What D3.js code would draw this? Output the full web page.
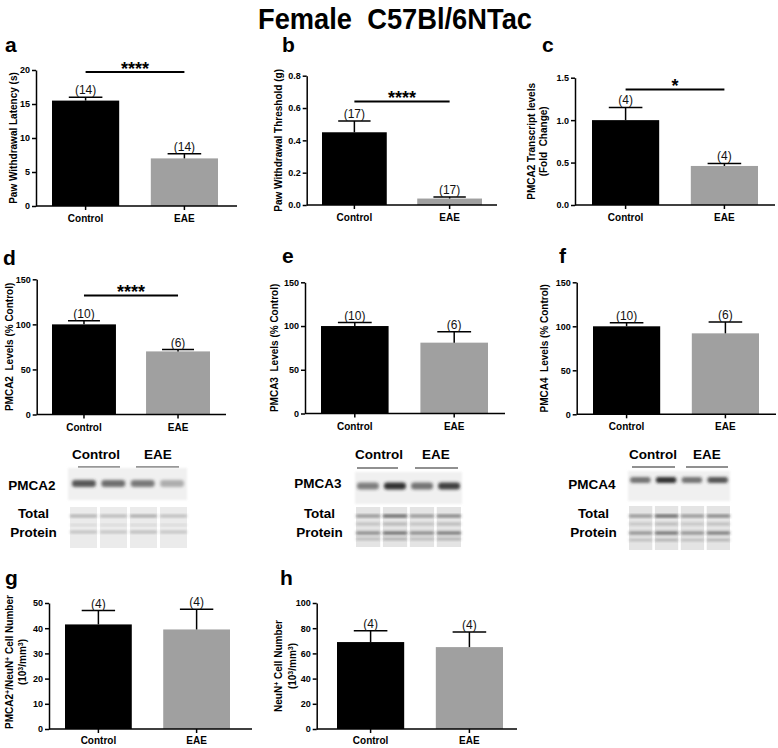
<!DOCTYPE html>
<html><head><meta charset="utf-8">
<script src="https://cdn.jsdelivr.net/npm/d3@7"></script>
<style>
body{margin:0;background:#fff}
svg{display:block}
text{font-family:"Liberation Sans",Arial,Helvetica,sans-serif}
</style>
</head><body>
<svg id="c" width="778" height="748"></svg>
<script>
// ---------------- DATA ----------------
const categories = ["Control", "EAE"];
const barColors = ["#000000", "#a0a0a0"];

// a: paw withdrawal latency (s)
const latencyMean = [15.5, 7.0];
const latencyUpper = [16.0, 7.7];
const latencyN = [14, 14];
const latencyTicks = [0, 5, 10, 15, 20];

// b: paw withdrawal threshold (g)
const thresholdMean = [0.45, 0.04];
const thresholdUpper = [0.52, 0.05];
const thresholdN = [17, 17];
const thresholdTicks = [0, 0.2, 0.4, 0.6, 0.8];

// c: PMCA2 transcript (fold change)
const transcriptMean = [1.0, 0.46];
const transcriptUpper = [1.15, 0.49];
const transcriptN = [4, 4];
const transcriptTicks = [0, 0.5, 1.0, 1.5];

// d/e/f: protein levels (% control)
const proteinTicks = [0, 50, 100, 150];
const pmca2Mean = [100, 70];
const pmca2Upper = [104, 72];
const pmca3Mean = [100, 81];
const pmca3Upper = [104, 93.5];
const pmca4Mean = [100, 92];
const pmca4Upper = [104, 105];
const proteinN = [10, 6];

// g: PMCA2+/NeuN+ cell number
const doubleMean = [41.5, 39.5];
const doubleUpper = [47, 47.5];
const doubleTicks = [0, 10, 20, 30, 40, 50];
// h: NeuN+ cell number
const neunMean = [69, 65];
const neunUpper = [78, 77];
const neunTicks = [0, 20, 40, 60, 80, 100];
const cellN = [4, 4];

// western blot band intensities (lanes: Control, Control, EAE, EAE)
const blotLanes = [0, 1, 2, 3];
const pmca2Band = [0.8, 0.68, 0.62, 0.35];
const pmca3Band = [0.55, 0.92, 0.6, 0.85];
const pmca4Band = [0.6, 0.92, 0.6, 0.75];
const tp2Upper = [0.45, 0.38, 0.5, 0.35], tp2Lower = [0.32, 0.3, 0.36, 0.3];
const tp3Upper = [0.6, 0.95, 0.6, 0.72], tp3Lower = [0.65, 0.85, 0.65, 0.78];
const tp4Upper = [0.6, 0.95, 0.6, 0.72], tp4Lower = [0.6, 0.82, 0.6, 0.75];

// ---------------- DRAW ----------------
const svg = d3.select("#c");
const defs = svg.append("defs");
defs.append("filter").attr("id", "blur").attr("x", "-20%").attr("y", "-80%").attr("width", "140%").attr("height", "260%")
  .append("feGaussianBlur").attr("stdDeviation", "1.4 1.6");
defs.append("filter").attr("id", "blur2").attr("x", "-10%").attr("y", "-10%").attr("width", "120%").attr("height", "120%")
  .append("feGaussianBlur").attr("stdDeviation", "1");

svg.append("text").attr("x", 395).attr("y", 29).attr("text-anchor", "middle")
  .style("font-family", '"Liberation Sans Narrow","Arial Narrow","Liberation Sans",Arial,sans-serif')
  .style("font-weight", "bold").style("font-size", "30px").style("white-space", "pre")
  .attr("textLength", 274).attr("lengthAdjust", "spacingAndGlyphs")
  .text("Female  C57Bl/6NTac");

const panels = [
  {letter: "a", lx: 5, ly: 52, ax: 36, xEnd: 237, yTop: 70, yBot: 206, bars: [52, 218], domain: [0, 20], ticks: latencyTicks, fmt: d3.format("d"),
   mean: latencyMean, upper: latencyUpper, n: latencyN, sig: 19.7, stars: "****",
   label: [[["Paw Withdrawal Latency (s)"]]], labX: [17]},
  {letter: "b", lx: 282, ly: 52, ax: 306.7, xEnd: 497, yTop: 75.7, yBot: 205, bars: [322, 482], domain: [0, 0.8], ticks: thresholdTicks, fmt: d3.format(".1f"),
   mean: thresholdMean, upper: thresholdUpper, n: thresholdN, sig: 0.64, stars: "****",
   label: [[["Paw Withdrawal Threshold (g)"]]], labX: [282]},
  {letter: "c", lx: 542, ly: 52, ax: 575, xEnd: 775, yTop: 77.7, yBot: 205, bars: [592, 758], domain: [0, 1.5], ticks: transcriptTicks, fmt: d3.format(".1f"),
   mean: transcriptMean, upper: transcriptUpper, n: transcriptN, sig: 1.36, stars: "*",
   label: [[["PMCA2 Transcript levels"]], [["(Fold  Change)"]]], labX: [535, 547]},
  {letter: "d", lx: 3, ly: 265, ax: 36.7, xEnd: 226, yTop: 279.3, yBot: 414.5, bars: [52, 210], domain: [0, 150], ticks: proteinTicks, fmt: d3.format("d"),
   mean: pmca2Mean, upper: pmca2Upper, n: proteinN, sig: 132, stars: "****",
   label: [[["PMCA2  Levels (% Control)"]]], labX: [12.5]},
  {letter: "e", lx: 282, ly: 263, ax: 305, xEnd: 505, yTop: 282.3, yBot: 413.5, bars: [321, 488], domain: [0, 150], ticks: proteinTicks, fmt: d3.format("d"),
   mean: pmca3Mean, upper: pmca3Upper, n: proteinN, sig: null,
   label: [[["PMCA3  Levels (% Control)"]]], labX: [278]},
  {letter: "f", lx: 559, ly: 263, ax: 576.7, xEnd: 776, yTop: 282.3, yBot: 414.3, bars: [593, 759], domain: [0, 150], ticks: proteinTicks, fmt: d3.format("d"),
   mean: pmca4Mean, upper: pmca4Upper, n: proteinN, sig: null,
   label: [[["PMCA4  Levels (% Control)"]]], labX: [548]},
  {letter: "g", lx: 5, ly: 585, ax: 49, xEnd: 252, yTop: 603, yBot: 729, bars: [65, 230], domain: [0, 50], ticks: doubleTicks, fmt: d3.format("d"),
   mean: doubleMean, upper: doubleUpper, n: cellN, sig: null, xPad: 4,
   label: [[["PMCA2"], ["+", 1], ["/NeuN"], ["+", 1], [" Cell Number"]], [["(10"], ["3", 1], ["/mm"], ["3", 1], [")"]]], labX: [13, 26], labMid: 662},
  {letter: "h", lx: 280, ly: 585, ax: 316.7, xEnd: 517, yTop: 603, yBot: 729, bars: [337, 503], domain: [0, 100], ticks: neunTicks, fmt: d3.format("d"),
   mean: neunMean, upper: neunUpper, n: cellN, sig: null, xPad: 4,
   label: [[["NeuN"], ["+", 1], [" Cell Number"]], [["(10"], ["3", 1], ["/mm"], ["3", 1], [")"]]], labX: [282, 296]}
];

function drawPanel(p) {
  const g = svg.append("g");
  const y = d3.scaleLinear().domain(p.domain).range([p.yBot, p.yTop]);
  const x = d3.scaleBand().domain(categories).range(p.bars).paddingInner(0.32);
  const bw = x.bandwidth();

  g.selectAll("rect.bar").data(categories).join("rect").attr("class", "bar")
    .attr("x", d => x(d)).attr("width", bw)
    .attr("y", (d, i) => y(p.mean[i])).attr("height", (d, i) => y(p.domain[0]) - y(p.mean[i]))
    .attr("fill", (d, i) => barColors[i]);

  categories.forEach((c, i) => {
    const cx = x(c) + bw / 2;
    g.append("line").attr("x1", cx).attr("x2", cx).attr("y1", y(p.mean[i])).attr("y2", y(p.upper[i]))
      .attr("stroke", "#000").attr("stroke-width", 1.5);
    g.append("line").attr("x1", cx - bw / 4).attr("x2", cx + bw / 4).attr("y1", y(p.upper[i])).attr("y2", y(p.upper[i]))
      .attr("stroke", "#000").attr("stroke-width", 1.5);
    g.append("text").attr("x", cx).attr("y", y(p.upper[i]) - 3).attr("text-anchor", "middle")
      .style("font-size", "12px").attr("fill", "#111").text(`(${p.n[i]})`);
  });

  const ya = g.append("g").attr("transform", `translate(${p.ax},0)`)
    .call(d3.axisLeft(y).tickValues(p.ticks).tickFormat(p.fmt).tickSize(4).tickSizeOuter(0).tickPadding(2));
  const xa = g.append("g").attr("transform", `translate(0,${p.yBot})`)
    .call(d3.axisBottom(x).tickSize(4).tickSizeOuter(0).tickPadding(p.xPad || 5))
    .call(a => a.select(".domain").attr("d", `M${p.ax},0H${p.xEnd}`));
  [ya, xa].forEach(a => {
    a.selectAll("path,line").attr("stroke", "#000").attr("stroke-width", 1.5);
    a.selectAll("text").attr("fill", "#000").style("font-weight", "bold").style("font-family", '"Liberation Sans",Arial,sans-serif');
  });
  ya.selectAll("text").style("font-size", "9px");
  xa.selectAll("text").style("font-size", "10px");

  if (p.sig !== null) {
    const x1 = x(categories[0]) + bw / 2, x2 = x(categories[1]) + bw / 2;
    g.append("line").attr("x1", x1).attr("x2", x2).attr("y1", y(p.sig)).attr("y2", y(p.sig))
      .attr("stroke", "#000").attr("stroke-width", 2);
    g.append("text").attr("x", (x1 + x2) / 2).attr("y", y(p.sig) + 2.5).attr("text-anchor", "middle")
      .style("font-size", "18px").style("font-weight", "bold").text(p.stars);
  }

  const mid = p.labMid !== undefined ? p.labMid : (p.yTop + p.yBot) / 2;
  p.label.forEach((line, li) => {
    const t = g.append("text").attr("transform", `translate(${p.labX[li]},${mid}) rotate(-90)`)
      .attr("text-anchor", "middle").style("font-size", "10px").style("font-weight", "bold").style("white-space", "pre");
    line.forEach(seg => {
      const ts = t.append("tspan").text(seg[0]);
      if (seg[1]) ts.attr("baseline-shift", "super").style("font-size", "7px");
    });
  });

  svg.append("text").attr("x", p.lx).attr("y", p.ly).style("font-size", "21px").style("font-weight", "bold").text(p.letter);
}
panels.forEach(drawPanel);

// ---------------- BLOTS ----------------
const blots = [
  {name: "PMCA2", nameX: 32, ctrlX: 96, eaeX: 158, ctrlLine: [78, 120], eaeLine: [136, 179], lineY: 467,
   box: [68, 468, 119, 32], lanes: [71, 185], bandY: 483.5, bandH: 7, band: pmca2Band, bandFill: "#333",
   tpLanes: [70, 187], tpY: 507, tpH: 41, tpBands: [[516, tp2Upper, 2], [525, tp2Lower.map(v => v * 0.5), 1.5], [532, tp2Lower, 2]], tpBg: "#ebebeb", nameY: 490},
  {name: "PMCA3", nameX: 318, ctrlX: 379, eaeX: 436, ctrlLine: [357, 398], eaeLine: [415, 458], lineY: 468,
   box: [355, 472, 107, 32], lanes: [356, 461], bandY: 486, bandH: 7, band: pmca3Band, bandFill: "#222",
   tpLanes: [356, 461], tpY: 507, tpH: 40, tpBands: [[516, tp3Upper, 2.2], [524, tp3Lower.map(v => v * 0.55), 1.6], [533, tp3Lower, 2.4], [539, tp3Lower.map(v => v * 0.6), 1.6]], tpBg: "#e4e4e4", nameY: 488},
  {name: "PMCA4", nameX: 592, ctrlX: 653, eaeX: 707, ctrlLine: [632, 675], eaeLine: [686, 728], lineY: 467,
   box: [628, 471, 102, 30], lanes: [629, 729], bandY: 480, bandH: 6, band: pmca4Band, bandFill: "#222",
   tpLanes: [629, 730], tpY: 506, tpH: 44, tpBands: [[516, tp4Upper, 2.2], [524, tp4Lower.map(v => v * 0.5), 1.6], [533, tp4Lower, 2.4], [540, tp4Lower.map(v => v * 0.6), 1.6]], tpBg: "#e4e4e4", nameY: 489}
];

blots.forEach(b => {
  const g = svg.append("g");
  const hdr = (txt, x) => g.append("text").attr("x", x).attr("y", 459).attr("text-anchor", "middle")
    .style("font-size", "13.5px").style("font-weight", "bold").text(txt);
  hdr(categories[0], b.ctrlX); hdr(categories[1], b.eaeX);
  [b.ctrlLine, b.eaeLine].forEach(l => g.append("line").attr("x1", l[0]).attr("x2", l[1]).attr("y1", b.lineY).attr("y2", b.lineY)
    .attr("stroke", "#222").attr("stroke-width", 1.2));
  const lab = (txt, x, y) => g.append("text").attr("x", x).attr("y", y).attr("text-anchor", "middle")
    .style("font-size", "13.5px").style("font-weight", "bold").text(txt);
  lab(b.name, b.nameX, b.nameY);
  lab("Total", b.nameX + 1.5, 518);
  lab("Protein", b.nameX + 1.5, 537);

  g.append("rect").attr("x", b.box[0]).attr("y", b.box[1]).attr("width", b.box[2]).attr("height", b.box[3])
    .attr("fill", "#f0f0f0").attr("filter", "url(#blur2)");
  const lx = d3.scaleBand().domain(blotLanes).range(b.lanes).paddingInner(0.12);
  g.selectAll("rect.band").data(blotLanes).join("rect").attr("class", "band")
    .attr("x", d => lx(d) + 1).attr("width", lx.bandwidth() - 2)
    .attr("y", b.bandY - b.bandH / 2).attr("height", b.bandH).attr("rx", 3)
    .attr("fill", b.bandFill).attr("opacity", d => b.band[d]).attr("filter", "url(#blur)");

  const tx = d3.scaleBand().domain(blotLanes).range(b.tpLanes).paddingInner(0.1);
  g.selectAll("rect.tp").data(blotLanes).join("rect").attr("class", "tp")
    .attr("x", d => tx(d)).attr("width", tx.bandwidth()).attr("y", b.tpY).attr("height", b.tpH).attr("fill", b.tpBg);
  b.tpBands.forEach(([by, vals, h]) => {
    g.selectAll(null).data(blotLanes).join("rect")
      .attr("x", d => tx(d)).attr("width", tx.bandwidth()).attr("y", by - h / 2).attr("height", h)
      .attr("fill", "#2a2a2a").attr("opacity", d => vals[d]).attr("filter", "url(#blur)");
  });
});
</script>
</body></html>
